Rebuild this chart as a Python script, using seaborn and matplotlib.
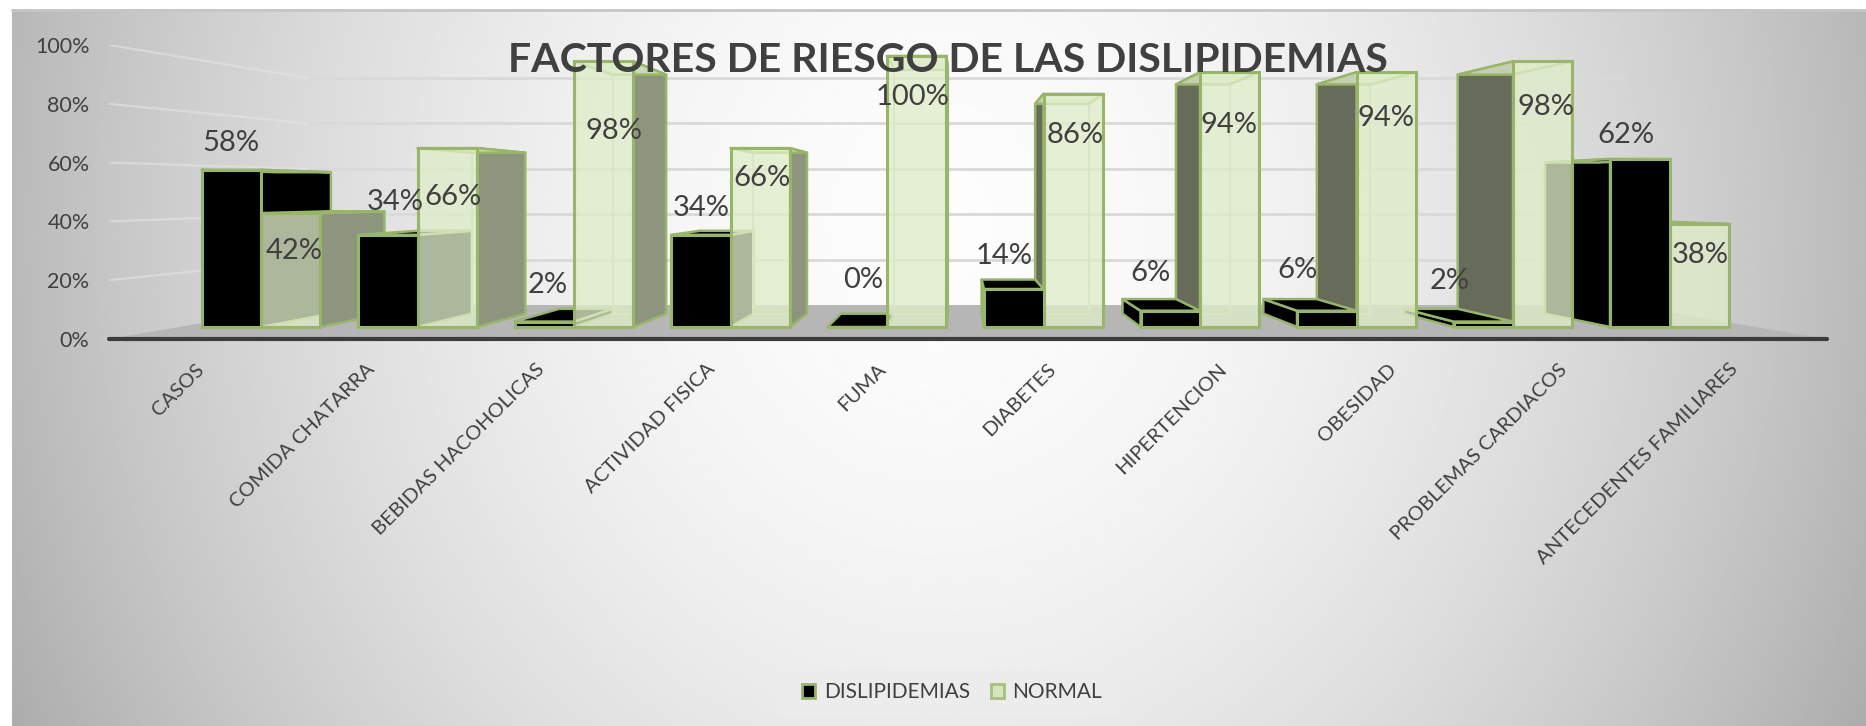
import numpy as np
import pandas as pd
import seaborn as sns
import matplotlib
matplotlib.use("Agg")
import matplotlib.pyplot as plt
from matplotlib.patches import Polygon, Patch, Rectangle
from matplotlib.ticker import PercentFormatter

categories = ["CASOS", "COMIDA CHATARRA", "BEBIDAS HACOHOLICAS", "ACTIVIDAD FISICA", "FUMA",
              "DIABETES", "HIPERTENCION", "OBESIDAD", "PROBLEMAS CARDIACOS", "ANTECEDENTES FAMILIARES"]
dislipidemias = [0.58, 0.34, 0.02, 0.34, 0.0, 0.14, 0.06, 0.06, 0.02, 0.62]
normal = [0.42, 0.66, 0.98, 0.66, 1.0, 0.86, 0.94, 0.94, 0.98, 0.38]
series_names = ["DISLIPIDEMIAS", "NORMAL"]
title = "FACTORES DE RIESGO DE LAS DISLIPIDEMIAS"

# hand placement of the value labels, pixels from the top-centre of each bar (x, down)
black_offsets = [(0, -27), (8, -33), (3, -37), (1, -27), (6, -47), (-10, -33), (-20, -38), (-29, -41), (-34, -41), (-14, -24)]
normal_offsets = [(3, 38), (6, 49), (10, 70), (2, 30), (-4, 41), (2, 41), (-1, 53), (0, 46), (3, 46), (1, 31)]

W, H = 1866, 726
sns.set_theme(style="white")
plt.rcParams["font.family"] = ["Lato", "DejaVu Sans"]
TXT = "#404040"
EDGE = "#97b668"
FACE = (222 / 255, 236 / 255, 200 / 255, 0.78)


def place(ax, x0, y0, x1, y1):
    ax.set_position([x0 / W, 1 - y1 / H, (x1 - x0) / W, (y1 - y0) / H])


fig = plt.figure(figsize=(W / 100, H / 100), dpi=100, facecolor="white")

# panel gradient
ax_bg = fig.add_axes([0, 0, 1, 1], zorder=0)
place(ax_bg, 12, 9, W, H)
yy, xx = np.mgrid[0:1:300j, 0:1:600j]
r = np.sqrt(((xx - 0.5) / 0.5) ** 2 + ((yy - 0.3) / 1.45) ** 2)
ax_bg.imshow(0.99 - 0.26 * np.clip(r, 0, 1.3) ** 1.8, cmap="gray", vmin=0, vmax=1, aspect="auto", interpolation="bilinear")
ax_bg.axis("off")
fig.add_artist(plt.Line2D([12 / W, 1], [1 - 10 / H] * 2, color="#c6c6c6", lw=2))

# front plane of the chart box: axis, ticks, walls and floor
ax_front = fig.add_axes([0, 0, 1, 1], zorder=1)
place(ax_front, 109, 45, 1827, 339)
ax_front.patch.set_alpha(0)
ax_front.set_xlim(-0.5, 9.5)
ax_front.set_ylim(0, 1)
ax_front.set_xticks(np.arange(len(categories)) * 0.992)
ax_front.set_xticklabels(categories, rotation=45, ha="right", rotation_mode="anchor", fontsize=14.6, color=TXT)
ax_front.set_yticks(np.arange(0, 1.01, 0.2))
ax_front.yaxis.set_major_formatter(PercentFormatter(1, decimals=0))
ax_front.tick_params(axis="y", length=0, pad=14, labelsize=15.5, labelcolor=TXT)
ax_front.tick_params(axis="x", length=0, pad=15.5)
sns.despine(ax=ax_front, left=True)
ax_front.spines["bottom"].set_color("#3c3c3c")
ax_front.spines["bottom"].set_linewidth(3)
ax_front.spines["bottom"].set_capstyle("round")

fx_vp = -0.5 + (960 - 109) / 171.8
fy_vp = (339 - 190) / 294
kx_back, ky_back = 0.766, 0.772


def back(x, y):
    return fx_vp + (x - fx_vp) * kx_back, fy_vp + (y - fy_vp) * ky_back


for g in np.arange(0, 1.01, 0.2):
    if g > 0:
        bx0, by0 = back(-0.5, g)
        bx1, by1 = back(9.5, g)
        ax_front.plot([bx0, bx1], [by0, by1], color="#d9d9d9", lw=2, zorder=1)
        ax_front.plot([-0.5, bx0], [g, by0], color="#e4e4e4", lw=1.6, alpha=0.6, zorder=1)
ax_front.add_patch(Polygon([(-0.5, 0), back(-0.5, 0), back(9.5, 0), (9.5, 0)], fc="#b6b6b6", ec="none", zorder=1.5))

# bars
df = pd.DataFrame({"categoria": categories, series_names[0]: dislipidemias, series_names[1]: normal})
long_df = df.melt(id_vars="categoria", var_name="serie", value_name="valor")
ax = fig.add_axes([0, 0, 1, 1], zorder=2)
place(ax, 261 - 78.25, 56, 261 + 9 * 156.5 + 78.25, 327)
sns.barplot(data=long_df, x="categoria", y="valor", hue="serie", hue_order=series_names,
            palette=["black", "#d5e5be"], saturation=1, width=0.76, gap=0, dodge=True,
            edgecolor=EDGE, linewidth=2.2, ax=ax, legend=False)
ax.set_xlim(-0.5, 9.5)
ax.set_ylim(0, 1)
ax.axis("off")

vx = (960 - 261) / 156.5
vy = (327 - 194) / 270.7
DEPTH = 0.9


def deep(x, y):
    return vx + (x - vx) * DEPTH, vy + (y - vy) * DEPTH


for s, (container, offsets) in enumerate(zip(ax.containers, (black_offsets, normal_offsets))):
    for rect, (dx, dy) in zip(container.patches, offsets):
        x0, w, h = rect.get_x(), rect.get_width(), rect.get_height()
        x1 = x0 + w
        cx = x0 + w / 2
        z = 20 - abs(cx - vx)
        rect.set_zorder(z + 0.3)
        rect.set_clip_on(False)
        if s == 1:
            rect.set_facecolor(FACE)
        left_half = cx < vx
        xs = x1 if left_half else x0
        side = [(xs, 0), (xs, h), deep(xs, h), deep(xs, 0)]
        top = [(x0, h), (x1, h), deep(x1, h), deep(x0, h)]
        if s == 1:
            ax.add_patch(Polygon([deep(x0, 0), deep(x1, 0), deep(x1, h), deep(x0, h)], fc=(1, 1, 1, 0.05),
                                 ec="#c5d6aa", lw=1.4, zorder=z, clip_on=False))
            side_fc = "#8e957e" if left_half else "#666b5a"
            top_fc = FACE
        else:
            side_fc = "black"
            top_fc = "black"
        ax.add_patch(Polygon(side, fc=side_fc, ec=EDGE, lw=1.8, zorder=z + 0.1, clip_on=False, joinstyle="round"))
        ax.add_patch(Polygon(top, fc=top_fc, ec=EDGE, lw=1.8, zorder=z + 0.2, clip_on=False, joinstyle="round"))
        ax.annotate(f"{h:.0%}", xy=(cx, h), xytext=(dx, -dy), textcoords="offset pixels", ha="center", va="center",
                    fontsize=21, color=TXT, zorder=100, annotation_clip=False)

fig.text(948 / W, 1 - 61 / H, title, ha="center", va="center", fontsize=29.5, fontweight="bold", color=TXT, zorder=10)

# legend on its pale box
ax_bg.add_patch(Rectangle((776 / W, 1 - 716 / H), 344 / W, 46 / H, transform=fig.transFigure, fc="#ececec", ec="none",
                          clip_on=False, zorder=5))
handles = [Patch(fc="black", ec=EDGE, lw=2), Patch(fc="#d5e5be", ec="#a6c07e", lw=2)]
leg = fig.legend(handles, series_names, loc="center", bbox_to_anchor=(952 / W, 1 - 692.5 / H), ncol=2, frameon=False,
                 fontsize=15, labelcolor=TXT, handlelength=0.65, handleheight=0.65, handletextpad=0.4,
                 columnspacing=1.0, borderpad=0, borderaxespad=0)
leg.set_zorder(10)

fig.savefig("out.png", dpi=100, facecolor="white")
